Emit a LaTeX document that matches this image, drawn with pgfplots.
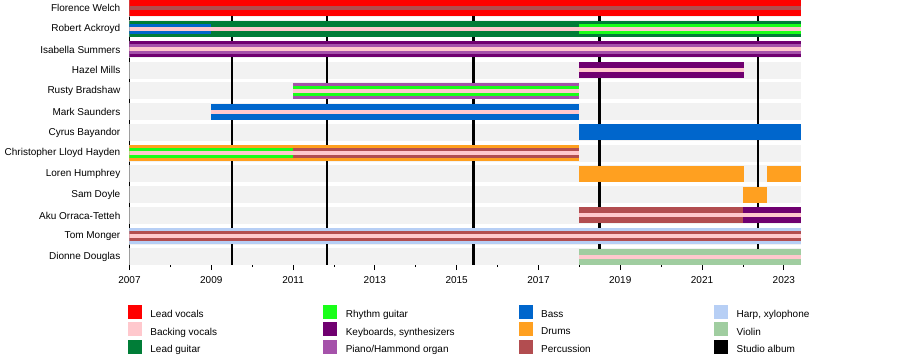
\documentclass[border=0pt]{standalone}
\usepackage{fontspec}
\setmainfont{Liberation Sans}
\usepackage{pgfplots}
\pgfplotsset{compat=1.18}

\definecolor{LeadVoc}{RGB}{255,0,0}
\definecolor{BackVoc}{RGB}{255,200,205}
\definecolor{LeadGtr}{RGB}{0,125,55}
\definecolor{RhyGtr}{RGB}{25,255,25}
\definecolor{Bass}{RGB}{0,102,204}
\definecolor{Keys}{RGB}{112,0,112}
\definecolor{Piano}{RGB}{165,82,170}
\definecolor{Drums}{RGB}{255,160,32}
\definecolor{Perc}{RGB}{178,77,80}
\definecolor{Harp}{RGB}{183,207,245}
\definecolor{Violin}{RGB}{160,205,160}
\definecolor{Band}{RGB}{242,242,242}

% segment: colour, width, start, end, row
\newcommand{\seg}[5]{\addplot[draw=#1, line width=#2, line cap=butt, forget plot] coordinates {(#3,#5) (#4,#5)};}
\newcommand{\album}[1]{\addplot[black, line width=2.6bp, line cap=butt, forget plot] coordinates {(#1,0) (#1,12.5)};}
\pgfplotsset{sq/.style={legend image code/.code={\fill[#1] (0bp,-3bp) rectangle (13bp,10bp);}}}

\begin{document}
\begin{tikzpicture}
\useasboundingbox (-129.5bp,-100bp) rectangle (770.5bp,264bp);
\begin{axis}[
  at={(0,0)}, anchor=south west,
  scale only axis, width=671.5bp, height=264bp,
  xmin=2007, xmax=2023.42,
  ymin=-0.386, ymax=12.34, y dir=reverse,
  axis x line=bottom, axis y line=left,
  axis line style={-, line width=0.8bp},
  font=\fontsize{10bp}{12bp}\selectfont,
  xtick={2007,2009,...,2023},
  minor xtick={2008,2010,...,2022},
  tick align=outside,
  major tick length=6bp, minor tick length=3bp,
  x tick style={line width=0.8bp, black},
  x tick label style={inner sep=0pt, yshift=-6bp},
  xticklabel style={/pgf/number format/.cd, 1000 sep={}, assume math mode=true},
  ytick={0,...,12},
  yticklabels={Florence Welch,Robert Ackroyd,Isabella Summers,Hazel Mills,Rusty Bradshaw,Mark Saunders,Cyrus Bayandor,Christopher Lloyd Hayden,Loren Humphrey,Sam Doyle,Aku Orraca-Tetteh,Tom Monger,Dionne Douglas},
  y tick style={draw=none},
  y tick label style={anchor=east, inner sep=0pt, xshift=-3bp},
  legend columns=3, transpose legend, legend cell align=left,
  legend style={at={(0,0)}, anchor=north west, xshift=-1.5bp, yshift=-40.5bp,
    draw=none, fill=none, inner sep=0pt, outer sep=0pt,
    column sep=9bp, row sep=3bp,
    nodes={inner sep=0pt}},
]
% legend
\addlegendimage{sq=LeadVoc}\addlegendentry{\makebox[164bp][l]{Lead vocals}}
\addlegendimage{sq=BackVoc}\addlegendentry{\makebox[164bp][l]{Backing vocals}}
\addlegendimage{sq=LeadGtr}\addlegendentry{\makebox[164bp][l]{Lead guitar}}
\addlegendimage{sq=RhyGtr}\addlegendentry{\makebox[164bp][l]{Rhythm guitar}}
\addlegendimage{sq=Keys}\addlegendentry{\makebox[164bp][l]{Keyboards, synthesizers}}
\addlegendimage{sq=Piano}\addlegendentry{\makebox[164bp][l]{Piano/Hammond organ}}
\addlegendimage{sq=Bass}\addlegendentry{\makebox[164bp][l]{Bass}}
\addlegendimage{sq=Drums}\addlegendentry{\makebox[164bp][l]{Drums}}
\addlegendimage{sq=Perc}\addlegendentry{\makebox[164bp][l]{Percussion}}
\addlegendimage{sq=Harp}\addlegendentry{Harp, xylophone}
\addlegendimage{sq=Violin}\addlegendentry{Violin}
\addlegendimage{sq=black}\addlegendentry{Studio album}

% background row bands
\seg{Band}{17bp}{2007}{2023.42}{0}
\seg{Band}{17bp}{2007}{2023.42}{1}
\seg{Band}{17bp}{2007}{2023.42}{2}
\seg{Band}{17bp}{2007}{2023.42}{3}
\seg{Band}{17bp}{2007}{2023.42}{4}
\seg{Band}{17bp}{2007}{2023.42}{5}
\seg{Band}{17bp}{2007}{2023.42}{6}
\seg{Band}{17bp}{2007}{2023.42}{7}
\seg{Band}{17bp}{2007}{2023.42}{8}
\seg{Band}{17bp}{2007}{2023.42}{9}
\seg{Band}{17bp}{2007}{2023.42}{10}
\seg{Band}{17bp}{2007}{2023.42}{11}
\seg{Band}{17bp}{2007}{2023.42}{12}

% studio albums
\album{2009.51}
\album{2011.83}
\album{2015.41}
\album{2018.49}
\album{2022.37}

% Florence Welch
\seg{LeadVoc}{16bp}{2007}{2023.42}{0}
\seg{Perc}{3.5bp}{2007}{2023.42}{0}
% Robert Ackroyd
\seg{LeadGtr}{16bp}{2007}{2023.42}{1}
\seg{Bass}{10bp}{2007}{2009}{1}
\seg{RhyGtr}{10bp}{2018}{2023.42}{1}
\seg{BackVoc}{4bp}{2007}{2023.42}{1}
% Isabella Summers
\seg{Keys}{16bp}{2007}{2023.42}{2}
\seg{Piano}{10bp}{2007}{2023.42}{2}
\seg{BackVoc}{4bp}{2007}{2023.42}{2}
% Hazel Mills
\seg{Keys}{16bp}{2018}{2022.02}{3}
\seg{BackVoc}{4bp}{2018}{2022.02}{3}
% Rusty Bradshaw
\seg{Piano}{16bp}{2011}{2018}{4}
\seg{RhyGtr}{10bp}{2011}{2018}{4}
\seg{BackVoc}{4bp}{2011}{2018}{4}
% Mark Saunders
\seg{Bass}{16bp}{2009}{2018}{5}
\seg{BackVoc}{4bp}{2009}{2018}{5}
% Cyrus Bayandor
\seg{Bass}{16bp}{2018}{2023.42}{6}
% Christopher Lloyd Hayden
\seg{Drums}{16bp}{2007}{2018}{7}
\seg{RhyGtr}{10bp}{2007}{2011}{7}
\seg{Perc}{10bp}{2011}{2018}{7}
\seg{BackVoc}{4bp}{2007}{2018}{7}
% Loren Humphrey
\seg{Drums}{16bp}{2018}{2022.02}{8}
\seg{Drums}{16bp}{2022.6}{2023.42}{8}
% Sam Doyle
\seg{Drums}{16bp}{2022.0}{2022.6}{9}
% Aku Orraca-Tetteh
\seg{Perc}{16bp}{2018}{2022.0}{10}
\seg{Keys}{16bp}{2022.0}{2023.42}{10}
\seg{BackVoc}{4bp}{2018}{2023.42}{10}
% Tom Monger
\seg{Harp}{16bp}{2007}{2023.42}{11}
\seg{Perc}{10bp}{2007}{2023.42}{11}
\seg{BackVoc}{4bp}{2007}{2023.42}{11}
% Dionne Douglas
\seg{Violin}{16bp}{2018}{2023.42}{12}
\seg{BackVoc}{4.5bp}{2018}{2023.42}{12}
\end{axis}
\end{tikzpicture}
\end{document}
